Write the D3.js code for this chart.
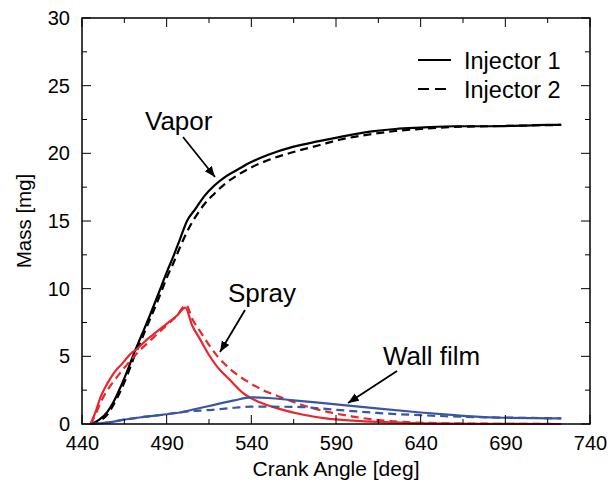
<!DOCTYPE html>
<html>
<head>
<meta charset="utf-8">
<script src="https://cdn.jsdelivr.net/npm/d3@7"></script>
<style>
  html, body { margin: 0; padding: 0; background: #fff; }
  svg { display: block; font-family: "Liberation Sans", Arial, Helvetica, sans-serif; }
</style>
</head>
<body>
<svg id="chart" width="614" height="486"></svg>
<script>
// Crank angle [deg] and fuel mass [mg] for each phase and injector
const vapor1X = [445, 450, 455, 458.5, 463, 467, 470, 475, 480, 486, 490, 494, 498, 502, 507, 512, 518, 525, 532, 539, 550, 565, 580, 592, 610, 625, 640, 660, 680, 700, 715, 723];
const vapor1Y = [0, 0.3, 0.9, 1.6, 2.8, 4.0, 5.0, 6.5, 8.0, 9.9, 11.2, 12.4, 13.7, 15.0, 15.9, 16.8, 17.6, 18.3, 18.8, 19.3, 19.9, 20.5, 20.9, 21.2, 21.6, 21.8, 21.9, 22.0, 22.0, 22.05, 22.1, 22.1];
const vapor2X = [445, 450, 455, 458.5, 463, 467, 470, 475, 480, 486, 490, 494, 498, 502, 507, 512, 518, 525, 532, 539, 550, 565, 580, 592, 610, 625, 640, 660, 680, 700, 723];
const vapor2Y = [0, 0.2, 0.7, 1.4, 2.5, 3.7, 4.7, 6.2, 7.7, 9.5, 10.8, 11.9, 13.1, 14.2, 15.3, 16.2, 17.0, 17.8, 18.4, 18.9, 19.5, 20.1, 20.6, 21.0, 21.4, 21.65, 21.8, 21.95, 22.0, 22.05, 22.1];

const spray1X = [445, 448, 451, 455, 459, 464, 468, 473, 478, 484, 490, 496, 501, 505, 510, 515, 520, 527, 535, 545, 557, 570, 585, 600, 615, 640, 670, 723];
const spray1Y = [0, 0.9, 2.0, 3.0, 3.8, 4.5, 5.1, 5.6, 6.2, 6.8, 7.4, 8.0, 8.6, 7.3, 6.2, 5.1, 4.2, 3.3, 2.3, 1.6, 1.1, 0.7, 0.4, 0.25, 0.15, 0.05, 0.02, 0];
const spray2X = [445, 448, 451, 455, 459, 464, 468, 473, 478, 484, 490, 496, 501.5, 505, 510, 520, 528, 537, 547, 557, 570, 585, 600, 614, 630, 650, 680, 723];
const spray2Y = [0, 0.7, 1.6, 2.5, 3.2, 4.0, 4.6, 5.3, 5.9, 6.6, 7.3, 8.0, 8.8, 7.8, 6.8, 5.0, 4.0, 3.2, 2.5, 2.0, 1.4, 0.9, 0.55, 0.3, 0.15, 0.06, 0.02, 0];

const wall1X = [445, 455, 464, 475, 490, 498, 505, 517.5, 530, 540, 550, 565, 578, 590, 614, 640, 660, 675, 690, 706, 715, 723];
const wall1Y = [0, 0.1, 0.3, 0.5, 0.72, 0.85, 1.05, 1.4, 1.75, 1.97, 1.92, 1.75, 1.6, 1.45, 1.15, 0.85, 0.65, 0.52, 0.46, 0.43, 0.42, 0.42];
const wall2X = [445, 455, 464, 475, 490, 500, 517, 530, 540, 565, 590, 614, 640, 675, 706, 723];
const wall2Y = [0, 0.1, 0.3, 0.5, 0.72, 0.9, 1.05, 1.2, 1.28, 1.27, 1.05, 0.82, 0.65, 0.5, 0.45, 0.42];

const xTicks = [440, 490, 540, 590, 640, 690, 740];
const yTicks = [0, 5, 10, 15, 20, 25, 30];
const legendLabels = ["Injector 1", "Injector 2"];

const series = [
  { x: vapor1X, y: vapor1Y, color: "#000000", dashed: false },
  { x: vapor2X, y: vapor2Y, color: "#000000", dashed: true },
  { x: spray1X, y: spray1Y, color: "#e8262b", dashed: false },
  { x: spray2X, y: spray2Y, color: "#e8262b", dashed: true },
  { x: wall1X, y: wall1Y, color: "#3b55a5", dashed: false },
  { x: wall2X, y: wall2Y, color: "#3b55a5", dashed: true }
];

const svg = d3.select("#chart");
const plotL = 82, plotR = 590, plotT = 18, plotB = 424;

const x = d3.scaleLinear().domain([440, 740]).range([plotL, plotR]);
const y = d3.scaleLinear().domain([0, 30]).range([plotB, plotT]);

// Curves
const line = d3.line()
  .x(d => x(d[0]))
  .y(d => y(d[1]))
  .curve(d3.curveMonotoneX);

const curves = svg.append("g");
series.forEach(s => {
  const pts = s.x.map((v, i) => [v, s.y[i]]);
  curves.append("path")
    .attr("d", line(pts))
    .attr("fill", "none")
    .attr("stroke", s.color)
    .attr("stroke-width", 2.2)
    .attr("stroke-linejoin", "round")
    .attr("stroke-dasharray", s.dashed ? "8,5" : null);
});

// Ticks on all four sides, pointing inward
const minorX = d3.range(465, 740, 50);
const minorY = d3.range(2.5, 30, 5);
const ticks = svg.append("g").attr("stroke", "#000").attr("stroke-width", 1);
const addX = (vals, len) => vals.forEach(v => {
  ticks.append("line").attr("x1", x(v)).attr("x2", x(v)).attr("y1", plotB).attr("y2", plotB - len);
  ticks.append("line").attr("x1", x(v)).attr("x2", x(v)).attr("y1", plotT).attr("y2", plotT + len);
});
const addY = (vals, len) => vals.forEach(v => {
  ticks.append("line").attr("y1", y(v)).attr("y2", y(v)).attr("x1", plotL).attr("x2", plotL + len);
  ticks.append("line").attr("y1", y(v)).attr("y2", y(v)).attr("x1", plotR).attr("x2", plotR - len);
});
addX(xTicks, 9); addX(minorX, 5);
addY(yTicks, 9); addY(minorY, 5);

// Frame
svg.append("rect")
  .attr("x", plotL).attr("y", plotT)
  .attr("width", plotR - plotL).attr("height", plotB - plotT)
  .attr("fill", "none").attr("stroke", "#000").attr("stroke-width", 1.5);

// Tick labels
const xAxis = d3.axisBottom(x).tickValues(xTicks).tickSize(0).tickPadding(12).tickFormat(d3.format("d"));
svg.append("g").attr("transform", `translate(0,${plotB})`).call(xAxis)
  .call(g => g.select(".domain").remove())
  .call(g => g.attr("font-family", null))
  .selectAll("text").attr("font-size", 20).attr("fill", "#000");

const yAxis = d3.axisLeft(y).tickValues(yTicks).tickSize(0).tickPadding(12).tickFormat(d3.format("d"));
svg.append("g").attr("transform", `translate(${plotL},0)`).call(yAxis)
  .call(g => g.select(".domain").remove())
  .call(g => g.attr("font-family", null))
  .selectAll("text").attr("font-size", 20).attr("fill", "#000");

// Axis titles
svg.append("text")
  .attr("x", (plotL + plotR) / 2).attr("y", 476)
  .attr("text-anchor", "middle").attr("font-size", 21)
  .text("Crank Angle [deg]");
svg.append("text")
  .attr("transform", `translate(31,${(plotT + plotB) / 2}) rotate(-90)`)
  .attr("text-anchor", "middle").attr("font-size", 20.5)
  .text("Mass [mg]");

// Legend
const legend = svg.append("g");
legendLabels.forEach((label, i) => {
  const ly = 60 + i * 29;
  legend.append("line")
    .attr("x1", 418).attr("x2", 451).attr("y1", ly).attr("y2", ly)
    .attr("stroke", "#000").attr("stroke-width", 2.2)
    .attr("stroke-dasharray", i === 1 ? "11,6" : null);
  legend.append("text")
    .attr("x", 464).attr("y", ly + 8.5)
    .attr("font-size", 23.5)
    .text(label);
});

// Annotations with arrows
const defs = svg.append("defs");
defs.append("marker")
  .attr("id", "arrowhead")
  .attr("viewBox", "0 0 10 10")
  .attr("refX", 10).attr("refY", 5)
  .attr("markerWidth", 6).attr("markerHeight", 6)
  .attr("markerUnits", "strokeWidth")
  .attr("orient", "auto")
  .append("path").attr("d", "M0,1 L10,5 L0,9 Z").attr("fill", "#000");

const notes = [
  { text: "Vapor", tx: 145, ty: 130, ax1: 183, ay1: 137, ax2: 215, ay2: 177 },
  { text: "Spray", tx: 228, ty: 302, ax1: 245, ay1: 310, ax2: 220, ay2: 352 },
  { text: "Wall film", tx: 383, ty: 365, ax1: 397, ay1: 371, ax2: 348, ay2: 403 }
];
notes.forEach(n => {
  svg.append("text").attr("x", n.tx).attr("y", n.ty).attr("font-size", 26).text(n.text);
  svg.append("line")
    .attr("x1", n.ax1).attr("y1", n.ay1).attr("x2", n.ax2).attr("y2", n.ay2)
    .attr("stroke", "#000").attr("stroke-width", 1.8)
    .attr("marker-end", "url(#arrowhead)");
});
</script>
</body>
</html>
